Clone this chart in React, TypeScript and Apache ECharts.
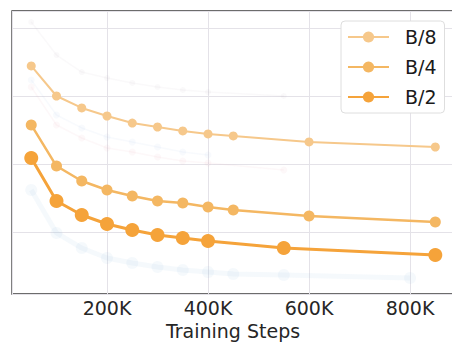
import React, { useEffect, useRef } from "react";
import * as echarts from "echarts";

const stepsB8 = [50000, 100000, 150000, 200000, 250000, 300000, 350000, 400000, 450000, 600000, 850000];
const valuesB8 = [22.21, 20.0, 19.12, 18.53, 18.01, 17.72, 17.43, 17.21, 17.06, 16.62, 16.25];
const stepsB4 = [50000, 100000, 150000, 200000, 250000, 300000, 350000, 400000, 450000, 600000, 850000];
const valuesB4 = [17.87, 14.85, 13.75, 13.09, 12.65, 12.28, 12.13, 11.84, 11.62, 11.18, 10.74];
const stepsB2 = [50000, 100000, 150000, 200000, 250000, 300000, 350000, 400000, 550000, 850000];
const valuesB2 = [15.44, 12.28, 11.25, 10.59, 10.15, 9.78, 9.56, 9.34, 8.82, 8.31];

// faint background (ghost) curves
const ghostStepsA = [50000, 100000, 150000, 200000, 250000, 300000, 350000, 400000, 550000];
const ghostValuesA = [25.44, 23.01, 21.76, 21.32, 20.96, 20.66, 20.44, 20.29, 20.0];
const ghostStepsB = [50000, 100000, 150000, 200000, 250000, 300000, 350000, 400000];
const ghostValuesB = [21.18, 18.6, 17.65, 16.99, 16.62, 16.25, 15.88, 15.66];
const ghostStepsC = [50000, 100000, 150000, 200000, 250000, 300000, 350000, 400000, 550000];
const ghostValuesC = [20.66, 17.87, 16.91, 16.18, 15.88, 15.51, 15.22, 15.07, 14.56];
const ghostStepsD = [50000, 100000, 150000, 200000, 250000, 300000, 350000, 400000, 450000, 550000, 800000];
const ghostValuesD = [13.09, 9.93, 8.82, 8.09, 7.72, 7.43, 7.21, 7.06, 6.91, 6.84, 6.62];

const seriesNames = ["B/8", "B/4", "B/2"];

const zip = (xs: number[], ys: number[]) => xs.map((x, i) => [x, ys[i]]);

export default function App() {
  const ref = useRef<HTMLDivElement>(null);
  useEffect(() => {
    if (!ref.current) return;
    const chart = echarts.init(ref.current, undefined, { renderer: "svg" });
    const font = "DejaVu Sans";
    const ghost = (data: number[][], color: string, size: number, width: number, opacity: number) => ({
      type: "line",
      data,
      symbol: "circle",
      symbolSize: size,
      silent: true,
      z: 1,
      lineStyle: { color, width, opacity },
      itemStyle: { color, opacity },
    });
    chart.setOption({
      animation: false,
      backgroundColor: "#ffffff",
      grid: {
        left: 12,
        top: 11,
        right: -2,
        bottom: 48,
        outerBoundsMode: "none",
        containLabel: false,
        show: true,
        borderColor: "#3d3d3d",
        borderWidth: 1.3,
        backgroundColor: "transparent",
      },
      legend: {
        data: seriesNames,
        orient: "vertical",
        left: 341,
        top: 21,
        padding: [6, 8, 6, 6],
        itemWidth: 41,
        itemHeight: 14,
        itemGap: 10,
        backgroundColor: "#ffffff",
        borderColor: "#dedede",
        borderWidth: 1,
        borderRadius: 4,
        textStyle: {
          fontFamily: font,
          fontSize: 19,
          color: "#1a1a1a",
          lineHeight: 20,
          padding: [0, 0, 0, 11],
        },
      },
      xAxis: {
        type: "value",
        min: 11900,
        max: 887000,
        axisLine: { show: false },
        axisTick: { show: false },
        splitLine: { show: true, lineStyle: { color: "#e4e2e8", width: 1 } },
        axisLabel: {
          show: true,
          showMinLabel: false,
          showMaxLabel: false,
          margin: 4,
          fontFamily: font,
          fontSize: 19,
          color: "#262626",
          formatter: (v: number) => `${Math.round(v / 1000)}K`,
        },
        name: "Training Steps",
        nameLocation: "middle",
        nameGap: 25,
        nameTextStyle: { fontFamily: font, fontSize: 19, color: "#262626" },
      },
      yAxis: {
        type: "value",
        min: 5.44,
        max: 26.25,
        axisLine: { show: false },
        axisTick: { show: false },
        axisLabel: { show: false },
        splitLine: { show: true, lineStyle: { color: "#e4e2e8", width: 1 } },
      },
      series: [
        ghost(zip(ghostStepsA, ghostValuesA), "#b9a3b3", 6, 1.5, 0.07),
        ghost(zip(ghostStepsB, ghostValuesB), "#a9c3e6", 7, 1.5, 0.08),
        ghost(zip(ghostStepsC, ghostValuesC), "#e7a6b6", 7, 1.5, 0.08),
        ghost(zip(ghostStepsD, ghostValuesD), "#9fc0e6", 12, 5, 0.1),
        {
          name: "B/8",
          type: "line",
          data: zip(stepsB8, valuesB8),
          symbol: "circle",
          symbolSize: 9,
          z: 3,
          lineStyle: { color: "#F6C88B", width: 2 },
          itemStyle: { color: "#F6C88B" },
        },
        {
          name: "B/4",
          type: "line",
          data: zip(stepsB4, valuesB4),
          symbol: "circle",
          symbolSize: 11,
          z: 4,
          lineStyle: { color: "#F4B762", width: 2.5 },
          itemStyle: { color: "#F4B762" },
        },
        {
          name: "B/2",
          type: "line",
          data: zip(stepsB2, valuesB2),
          symbol: "circle",
          symbolSize: 14,
          z: 5,
          lineStyle: { color: "#F5A33A", width: 3 },
          itemStyle: { color: "#F5A33A" },
        },
      ],
    });
    return () => chart.dispose();
  }, []);
  return (
    <div
      ref={ref}
      style={{ position: "fixed", left: 0, top: 0, width: 452, height: 342 }}
    />
  );
}
